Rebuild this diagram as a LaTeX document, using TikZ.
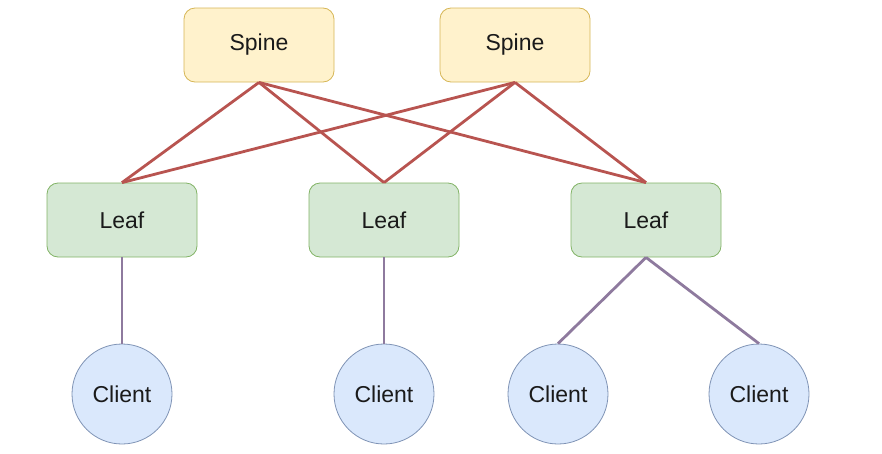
\documentclass[tikz,border=0pt]{standalone}
\usepackage{fontspec}
\setmainfont{Liberation Sans}
\definecolor{spinefill}{HTML}{FFF2CC}
\definecolor{spinedraw}{HTML}{D6B656}
\definecolor{leaffill}{HTML}{D5E8D4}
\definecolor{leafdraw}{HTML}{82B366}
\definecolor{clientfill}{HTML}{DAE8FC}
\definecolor{clientdraw}{HTML}{7F93B5}
\definecolor{upedge}{HTML}{B85450}
\definecolor{downedge}{HTML}{8E7A9E}
\definecolor{txt}{HTML}{1A1A1A}
\begin{document}
\begin{tikzpicture}[x=1pt,y=-1pt,
  box/.style={rectangle,rounded corners=11pt,minimum width=150pt,minimum height=74pt,line width=0.8pt,inner sep=0pt,
    font=\fontsize{23}{26}\selectfont,text=txt},
  spinebox/.style={box,fill=spinefill,draw=spinedraw},
  leafbox/.style={box,fill=leaffill,draw=leafdraw},
  clientnode/.style={circle,minimum size=100pt,inner sep=0pt,fill=clientfill,draw=clientdraw,line width=0.8pt,
    font=\fontsize{23}{26}\selectfont,text=txt},
  uplink/.style={draw=upedge,line width=2.8pt},
  downlink/.style={draw=downedge,line width=2.8pt}]
\useasboundingbox (0,0) rectangle (882,453);
\node[spinebox] (s1) at (259,45) {Spine};
\node[spinebox] (s2) at (515,45) {Spine};
\node[leafbox] (l1) at (122,220) {Leaf};
\node[leafbox] (l2) at (384,220) {Leaf};
\node[leafbox] (l3) at (646,220) {Leaf};
\node[clientnode] (c1) at (122,394) {Client};
\node[clientnode] (c2) at (384,394) {Client};
\node[clientnode] (c3) at (558,394) {Client};
\node[clientnode] (c4) at (759,394) {Client};
\foreach \s in {s1,s2}{
  \foreach \l in {l1,l2,l3}{
    \draw[uplink] (\s.south) -- (\l.north);
  }
}
\draw[downlink] (l1.south) -- (c1.north);
\draw[downlink] (l2.south) -- (c2.north);
\draw[downlink] (l3.south) -- (c3.north);
\draw[downlink] (l3.south) -- (c4.north);
\end{tikzpicture}
\end{document}
